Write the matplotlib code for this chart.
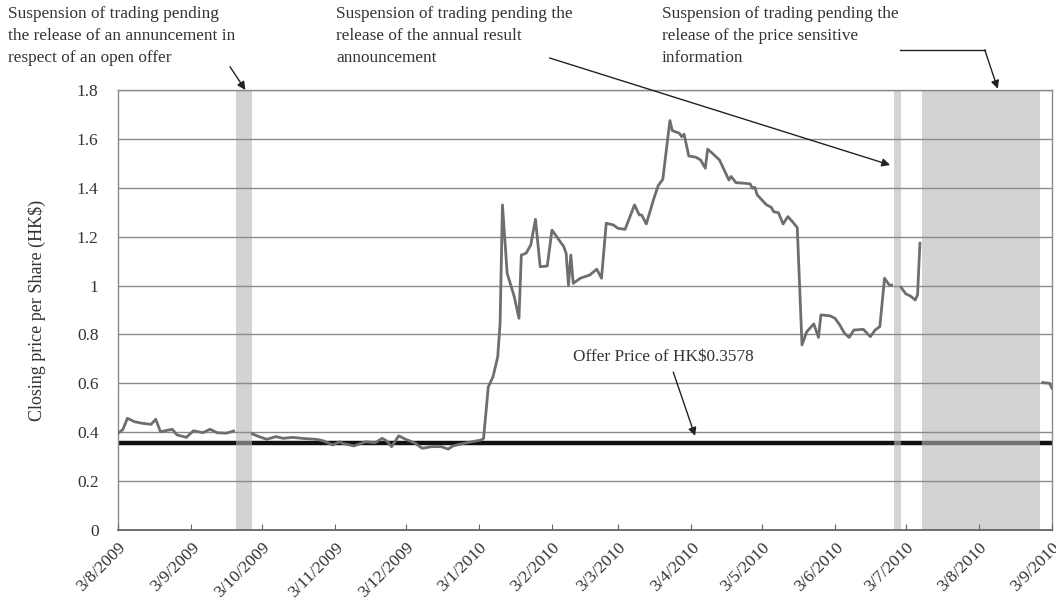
import matplotlib
matplotlib.use('Agg')
import matplotlib.pyplot as plt
import matplotlib.dates as mdates
from matplotlib.ticker import FuncFormatter, MultipleLocator
import numpy as np
import pandas as pd

# closing prices
dates = [
    '2009-08-03', '2009-08-05', '2009-08-07', '2009-08-10', '2009-08-13', '2009-08-17',
    '2009-08-19', '2009-08-21', '2009-08-26', '2009-08-28', '2009-09-01', '2009-09-04',
    '2009-09-08', '2009-09-11', '2009-09-14', '2009-09-18', '2009-09-21',
    '2009-09-29', '2009-10-01', '2009-10-05', '2009-10-09', '2009-10-12', '2009-10-16',
    '2009-10-21', '2009-10-26', '2009-10-29', '2009-11-02', '2009-11-05', '2009-11-06',
    '2009-11-11', '2009-11-16', '2009-11-20', '2009-11-23', '2009-11-25', '2009-11-27',
    '2009-11-30', '2009-12-03', '2009-12-07', '2009-12-10', '2009-12-14', '2009-12-18',
    '2009-12-21', '2009-12-23', '2009-12-28', '2009-12-31', '2010-01-04', '2010-01-05',
    '2010-01-07', '2010-01-09', '2010-01-11', '2010-01-12', '2010-01-13', '2010-01-15',
    '2010-01-18', '2010-01-20', '2010-01-21', '2010-01-23', '2010-01-25', '2010-01-27',
    '2010-01-29', '2010-02-01', '2010-02-03', '2010-02-05', '2010-02-08', '2010-02-09',
    '2010-02-10', '2010-02-11', '2010-02-12', '2010-02-15', '2010-02-19', '2010-02-22',
    '2010-02-24', '2010-02-26', '2010-03-01', '2010-03-03', '2010-03-06', '2010-03-10',
    '2010-03-12', '2010-03-13', '2010-03-15', '2010-03-18', '2010-03-20', '2010-03-22',
    '2010-03-25', '2010-03-26', '2010-03-29', '2010-03-30', '2010-03-31', '2010-04-02',
    '2010-04-05', '2010-04-07', '2010-04-09', '2010-04-10', '2010-04-12', '2010-04-15',
    '2010-04-17', '2010-04-19', '2010-04-20', '2010-04-22', '2010-04-25', '2010-04-28',
    '2010-04-29', '2010-04-30', '2010-05-01', '2010-05-03', '2010-05-05', '2010-05-07',
    '2010-05-08', '2010-05-10', '2010-05-12', '2010-05-14', '2010-05-16', '2010-05-18',
    '2010-05-20', '2010-05-22', '2010-05-25', '2010-05-27', '2010-05-28', '2010-06-01',
    '2010-06-03', '2010-06-05', '2010-06-07', '2010-06-09', '2010-06-11', '2010-06-15',
    '2010-06-18', '2010-06-20', '2010-06-22', '2010-06-24', '2010-06-26', '2010-06-27',
    '2010-07-01', '2010-07-03', '2010-07-05', '2010-07-07', '2010-07-08', '2010-07-09',
    '2010-08-30', '2010-09-02', '2010-09-03',
]
prices = [
    0.396, 0.410, 0.457, 0.443, 0.437, 0.432,
    0.453, 0.402, 0.412, 0.389, 0.379, 0.406,
    0.398, 0.412, 0.398, 0.396, 0.405,
    0.393, 0.385, 0.371, 0.382, 0.375, 0.379,
    0.374, 0.371, 0.365, 0.348, 0.361, 0.355,
    0.344, 0.361, 0.357, 0.375, 0.364, 0.341,
    0.385, 0.371, 0.355, 0.334, 0.341, 0.341,
    0.331, 0.344, 0.355, 0.361, 0.368, 0.375,
    0.586, 0.627, 0.709, 0.846, 1.330, 1.050,
    0.955, 0.866, 1.125, 1.132, 1.166, 1.271,
    1.077, 1.080, 1.227, 1.200, 1.159, 1.132,
    1.002, 1.125, 1.009, 1.030, 1.043, 1.067,
    1.030, 1.255, 1.248, 1.234, 1.230, 1.330,
    1.289, 1.289, 1.252, 1.350, 1.408, 1.435,
    1.675, 1.634, 1.623, 1.609, 1.619, 1.530,
    1.525, 1.514, 1.480, 1.558, 1.541, 1.514,
    1.473, 1.432, 1.446, 1.421, 1.419, 1.416,
    1.398, 1.402, 1.371, 1.350, 1.330, 1.320,
    1.302, 1.298, 1.252, 1.282, 1.261, 1.237,
    0.757, 0.811, 0.843, 0.788, 0.880, 0.876,
    0.866, 0.839, 0.805, 0.788, 0.818, 0.821,
    0.791, 0.818, 0.832, 1.030, 1.002, 1.002,
    0.993, 0.966, 0.957, 0.941, 0.962, 1.173,
    0.603, 0.600, 0.580,
]

offer_price = 0.3578
susp_start = ['2009-09-22', '2010-06-28', '2010-07-10']
susp_end = ['2009-09-29', '2010-07-01', '2010-08-29']

susp_labels = [
    'Suspension of trading pending\nthe release of an annuncement in\nrespect of an open offer',
    'Suspension of trading pending the\nrelease of the annual result\nannouncement',
    'Suspension of trading pending the\nrelease of the price sensitive\ninformation',
]

plt.rcParams['font.family'] = ['Liberation Serif', 'DejaVu Serif']

W, H = 1056, 604
fig = plt.figure(figsize=(W / 100, H / 100), dpi=100)
ax = fig.add_axes([118 / W, 1 - 530 / H, (1052 - 118) / W, (530 - 90) / H])

dt = pd.to_datetime(dates)
px = np.array(prices)
starts = pd.to_datetime(susp_start)
ends = pd.to_datetime(susp_end)

# offer price line sits under the grey suspension bands
ax.axhline(offer_price, color='#111111', lw=3.2, zorder=1.5)

for s, e in zip(starts, ends):
    ax.axvspan(s, e, color='#b4b6b8', alpha=0.6, lw=0, zorder=2)

# break the price line at each suspension
seg = np.searchsorted(starts.values, dt.values, side='right')
for k in np.unique(seg):
    m = seg == k
    ax.plot(dt[m], px[m], color='#6e6e6e', lw=2.0, zorder=3, solid_joinstyle='round')

ax.set_ylim(0, 1.8)
ax.set_xlim(pd.Timestamp('2009-08-03'), pd.Timestamp('2010-09-03'))
ax.yaxis.set_major_locator(MultipleLocator(0.2))
ax.yaxis.set_major_formatter(FuncFormatter(lambda v, _: f'{v:.1f}'.rstrip('0').rstrip('.') if v else '0'))
ax.set_axisbelow(False)
ax.yaxis.grid(True, color='#8a8a8a', lw=1.0)
ax.xaxis.grid(False)

ax.xaxis.set_major_locator(mdates.MonthLocator(bymonthday=3))
ax.xaxis.set_major_formatter(FuncFormatter(
    lambda v, _: '{0.day}/{0.month}/{0.year}'.format(mdates.num2date(v))))
ax.tick_params(axis='x', direction='in', length=4, color='#666666', pad=7,
               labelsize=12.6, labelcolor='#333333')
ax.tick_params(axis='y', length=0, pad=14, labelsize=12.5, labelcolor='#333333')
for lab in ax.get_xticklabels():
    lab.set_rotation(45)
    lab.set_ha('right')
    lab.set_va('top')
    lab.set_rotation_mode('anchor')

for sp in ['top', 'right', 'left']:
    ax.spines[sp].set_color('#8a8a8a')
    ax.spines[sp].set_linewidth(1.0)
ax.spines['bottom'].set_color('#555555')
ax.spines['bottom'].set_linewidth(1.2)

ax.set_ylabel('Closing price per Share (HK$)', fontsize=13, color='#333333', labelpad=22)

# suspension notes above the plot
for lbl, xpix in zip(susp_labels, [8, 336, 662]):
    fig.text(xpix / W, 1 - 6 / H, lbl, ha='left', va='top', fontsize=12.4,
             color='#333333', linespacing=1.5)

d = mdates.date2num
arrow = dict(arrowstyle='-|>', color='#222222', lw=1.0, mutation_scale=12, shrinkA=0, shrinkB=0)

ax.annotate('', xy=(d(pd.Timestamp('2009-09-26')), 1.80),
            xytext=(d(pd.Timestamp('2009-09-19 12:00')), 1.895),
            arrowprops=arrow, annotation_clip=False)
ax.annotate('', xy=(d(pd.Timestamp('2010-06-26 09:00')), 1.493),
            xytext=(d(pd.Timestamp('2010-02-02')), 1.931),
            arrowprops=arrow, annotation_clip=False)
ax.plot([pd.Timestamp('2010-06-30 12:00'), pd.Timestamp('2010-08-05 12:00')], [1.964, 1.964],
        color='#222222', lw=1.0, clip_on=False)
ax.annotate('', xy=(d(pd.Timestamp('2010-08-11')), 1.805),
            xytext=(d(pd.Timestamp('2010-08-05 12:00')), 1.964),
            arrowprops=arrow, annotation_clip=False)

ax.text(pd.Timestamp('2010-02-12'), 0.708, f'Offer Price of HK${offer_price}',
        ha='left', va='center', fontsize=12.4, color='#333333', zorder=4)
ax.annotate('', xy=(d(pd.Timestamp('2010-04-04 16:00')), 0.385),
            xytext=(d(pd.Timestamp('2010-03-26 10:00')), 0.646),
            arrowprops=arrow, annotation_clip=False)

fig.savefig('out.png', dpi=100)
